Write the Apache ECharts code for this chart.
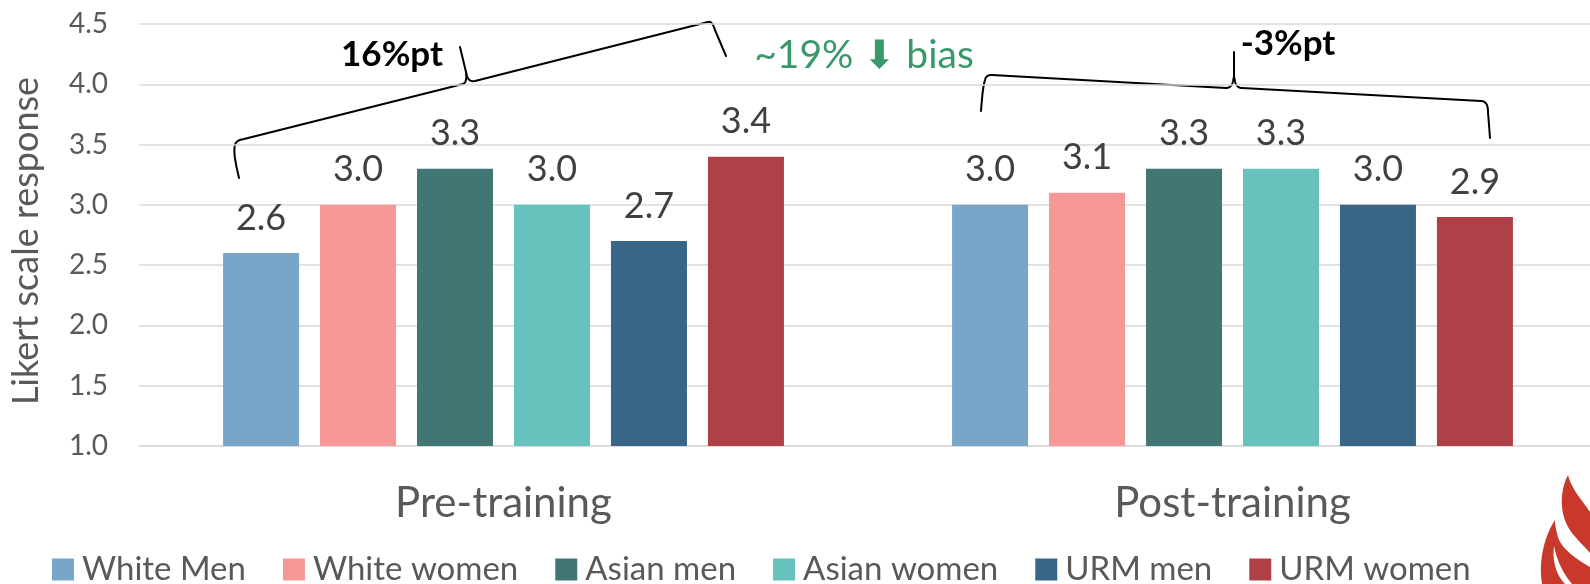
<!DOCTYPE html>
<html>
<head>
<meta charset="utf-8">
<script src="https://cdn.jsdelivr.net/npm/echarts@6/dist/echarts.min.js"></script>
<style>
html,body{margin:0;padding:0;background:#fff;}
#chart{width:1590px;height:584px;}
</style>
</head>
<body>
<div id="chart"></div>
<script>
// ---- data ----
var categories = ['Pre-training', 'Post-training'];
var seriesNames = ['White Men', 'White women', 'Asian men', 'Asian women', 'URM men', 'URM women'];
var whiteMen = [2.6, 3.0];
var whiteWomen = [3.0, 3.1];
var asianMen = [3.3, 3.3];
var asianWomen = [3.0, 3.3];
var urmMen = [2.7, 3.0];
var urmWomen = [3.4, 2.9];
var yTicks = { min: 1.0, max: 4.5, interval: 0.5 };
var annotations = { pre: '16%pt', post: '-3%pt', change: '~19% \u2B07 bias' };

// ---- styles ----
var colors = ['#78a6c8', '#f79898', '#407673', '#67c1bd', '#386687', '#b04048'];
var FONT = 'Lato, "Open Sans", sans-serif';
var seriesValues = [whiteMen, whiteWomen, asianMen, asianWomen, urmMen, urmWomen];

// sample simple path data (M, L, C) into polylines
function pathToPolylines(d) {
  var toks = d.trim().split(/\s+/);
  var lines = [], cur = null, i = 0, px = 0, py = 0, cmd = null;
  while (i < toks.length) {
    var t = toks[i];
    if (/^[MLC]$/.test(t)) { cmd = t; i++; }
    if (cmd === 'M') {
      px = +toks[i]; py = +toks[i + 1]; i += 2;
      cur = [[px, py]]; lines.push(cur); cmd = 'L';
    } else if (cmd === 'L') {
      px = +toks[i]; py = +toks[i + 1]; i += 2; cur.push([px, py]);
    } else if (cmd === 'C') {
      var x1 = +toks[i], y1 = +toks[i + 1], x2 = +toks[i + 2], y2 = +toks[i + 3], x3 = +toks[i + 4], y3 = +toks[i + 5];
      i += 6;
      for (var k = 1; k <= 16; k++) {
        var s = k / 16, u = 1 - s;
        cur.push([
          u * u * u * px + 3 * u * u * s * x1 + 3 * u * s * s * x2 + s * s * s * x3,
          u * u * u * py + 3 * u * u * s * y1 + 3 * u * s * s * y2 + s * s * s * y3
        ]);
      }
      px = x3; py = y3;
    } else { i++; }
  }
  return lines;
}
function strokeEls(d, color, w) {
  return pathToPolylines(d).map(function (pts) {
    return { type: 'polyline', shape: { points: pts }, style: { fill: null, stroke: color, lineWidth: w, lineJoin: 'round', lineCap: 'round' }, silent: true };
  });
}
function fillEls(d, color) {
  return pathToPolylines(d).map(function (pts) {
    return { type: 'polygon', shape: { points: pts }, style: { fill: color }, silent: true };
  });
}

var chart = echarts.init(document.getElementById('chart'), null, { renderer: 'canvas' });

var series = seriesNames.map(function (name, i) {
  return {
    name: name,
    type: 'bar',
    data: seriesValues[i],
    barWidth: 76,
    barGap: '27.6%',
    itemStyle: { color: colors[i] },
    label: {
      show: true,
      position: 'top',
      distance: 17,
      fontFamily: FONT,
      fontSize: 36,
      lineHeight: 36,
      color: '#404040',
      formatter: function (p) { return p.value.toFixed(1); }
    },
    emphasis: { disabled: true }
  };
});

var graphics = []
  .concat(strokeEls('M 239 178 C 236 165 233 152 235 145 C 236 141 239 140 244 139 L 463 84 C 466 83 467 78 466 72 L 460 47 M 466 72 C 467 78 469 82 475 81 L 708 22 C 711 21 713 24 715 30 L 726 56', '#000', 2))
  .concat(strokeEls('M 981 111 C 982 98 983 86 985 80 C 986 76 988 75 992 75 L 1226 88 C 1231 88 1233 84 1234 76 L 1234 52 M 1234 76 C 1235 84 1237 88 1242 88 L 1481 101 C 1486 101 1488 105 1488 112 L 1490 138', '#000', 2))
  .concat(fillEls('M 1568 475 C 1560 490 1558 515 1572 533 C 1580 543 1588 550 1590 553 L 1590 512 C 1582 500 1572 490 1568 475', '#c8392b'))
  .concat(fillEls('M 1555 520 C 1545 535 1538 560 1542 584 L 1590 584 L 1590 567 C 1578 560 1562 550 1558 537 C 1556 530 1555 525 1555 520', '#c8392b'))
  .concat(fillEls('M 1554 546 C 1552 560 1556 575 1565 584 L 1572 584 C 1562 572 1557 560 1554 546', '#ffffff'))
  .concat([
    { type: 'text', x: 392, y: 55, silent: true,
      style: { text: annotations.pre, font: 'bold 35px ' + FONT, fill: '#000', align: 'center', verticalAlign: 'middle' } },
    { type: 'text', x: 864, y: 55, silent: true,
      style: { text: annotations.change, font: '39px ' + FONT, fill: '#389a68', align: 'center', verticalAlign: 'middle' } },
    { type: 'text', x: 1288, y: 44, silent: true,
      style: { text: annotations.post, font: 'bold 35px ' + FONT, fill: '#000', align: 'center', verticalAlign: 'middle' } }
  ]);

var option = {
  animation: false,
  backgroundColor: '#ffffff',
  textStyle: { fontFamily: FONT },
  grid: { left: 139, right: -7, top: 24, bottom: 138, outerBoundsMode: 'none', containLabel: false },
  legend: {
    data: seriesNames,
    left: 47,
    top: 548,
    itemWidth: 22,
    itemHeight: 22,
    itemGap: 37,
    icon: 'rect',
    selectedMode: false,
    textStyle: { fontFamily: FONT, fontSize: 33, color: '#595959', lineHeight: 22, padding: [0, 0, 0, 3] }
  },
  xAxis: {
    type: 'category',
    data: categories,
    axisTick: { show: false },
    axisLine: { show: true, lineStyle: { color: '#d9d9d9', width: 1.5 } },
    axisLabel: { fontFamily: FONT, fontSize: 42, lineHeight: 42, color: '#595959', margin: 36 }
  },
  yAxis: {
    type: 'value',
    min: yTicks.min,
    max: yTicks.max,
    interval: yTicks.interval,
    name: 'Likert scale response',
    nameLocation: 'middle',
    nameGap: 95,
    nameRotate: 90,
    nameTextStyle: { fontFamily: FONT, fontSize: 36, color: '#595959', padding: [0, 12, 0, 0] },
    axisLine: { show: false },
    axisTick: { show: false },
    splitLine: { lineStyle: { color: '#d9d9d9', width: 1.5 } },
    axisLabel: {
      fontFamily: FONT, fontSize: 28, color: '#595959', margin: 31,
      formatter: function (v) { return v.toFixed(1); }
    }
  },
  series: series,
  graphic: graphics
};
chart.setOption(option);
</script>
</body>
</html>
